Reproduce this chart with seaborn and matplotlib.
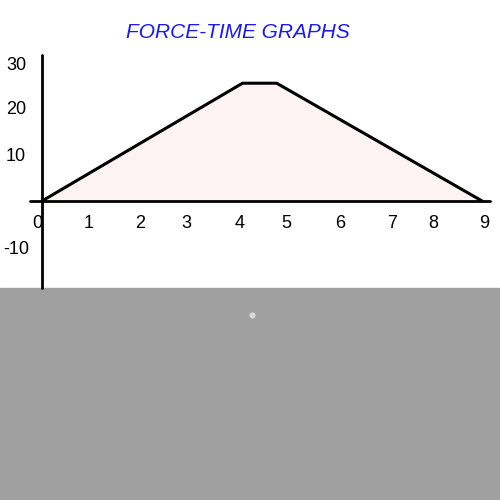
import matplotlib
matplotlib.use("Agg")
import matplotlib.pyplot as plt
import seaborn as sns
import pandas as pd

# data
time = [0, 4.1, 4.8, 9.0]
force = [0, 26, 26, 0]
x_ticks = [0, 1, 2, 3, 4, 5, 6, 7, 8, 9]
x_tick_pos = [-0.1, 0.95, 2.0, 2.95, 4.05, 5.0, 6.1, 7.15, 8.0, 9.05]
y_ticks = [30, 20, 10, -10]
y_tick_pos = [30, 20.2, 9.8, -10.6]

sns.set_style("white")
plt.rcParams["font.family"] = ["Liberation Sans", "DejaVu Sans"]
fig = plt.figure(figsize=(5, 5), dpi=100)
ax = fig.add_axes([0, 0, 1, 1])
px_x = 48.9
px_y = 4.53
ax.set_xlim(-42 / px_x, (500 - 42) / px_x)
ax.set_ylim(-299 / px_y, 201 / px_y)
ax.axis("off")

# gray lower panel
gray_top = -(288 - 201) / px_y
ax.axhspan(-299 / px_y, gray_top, color="#a0a0a0", zorder=0)
ax.scatter([4.3], [-(315 - 201) / px_y], s=12, color="#d8d8d8", zorder=1)

# axes lines
ax.plot([0, 0], [gray_top, (201 - 55) / px_y], color="black", lw=2, zorder=2)
ax.plot([-12 / px_x, 448 / px_x], [0, 0], color="black", lw=2, zorder=2)

df = pd.DataFrame({"time": time, "force": force})
ax.fill_between(df["time"], df["force"], color="#fdf3f3", zorder=1)
sns.lineplot(data=df, x="time", y="force", ax=ax, color="black", lw=2.2,
             sort=False, zorder=3)

for lab, p in zip(x_ticks, x_tick_pos):
    ax.text(p, -4.9, str(lab), ha="center", va="center", fontsize=13, color="black")
for lab, p in zip(y_ticks, y_tick_pos):
    ax.text(-0.53, p, str(lab), ha="center", va="center", fontsize=13, color="black")

ax.text(4.0, (201 - 32) / px_y, "FORCE-TIME GRAPHS", ha="center", va="center",
        fontsize=15, style="italic", color="#1a1aee")

fig.savefig("out.png", dpi=100)
